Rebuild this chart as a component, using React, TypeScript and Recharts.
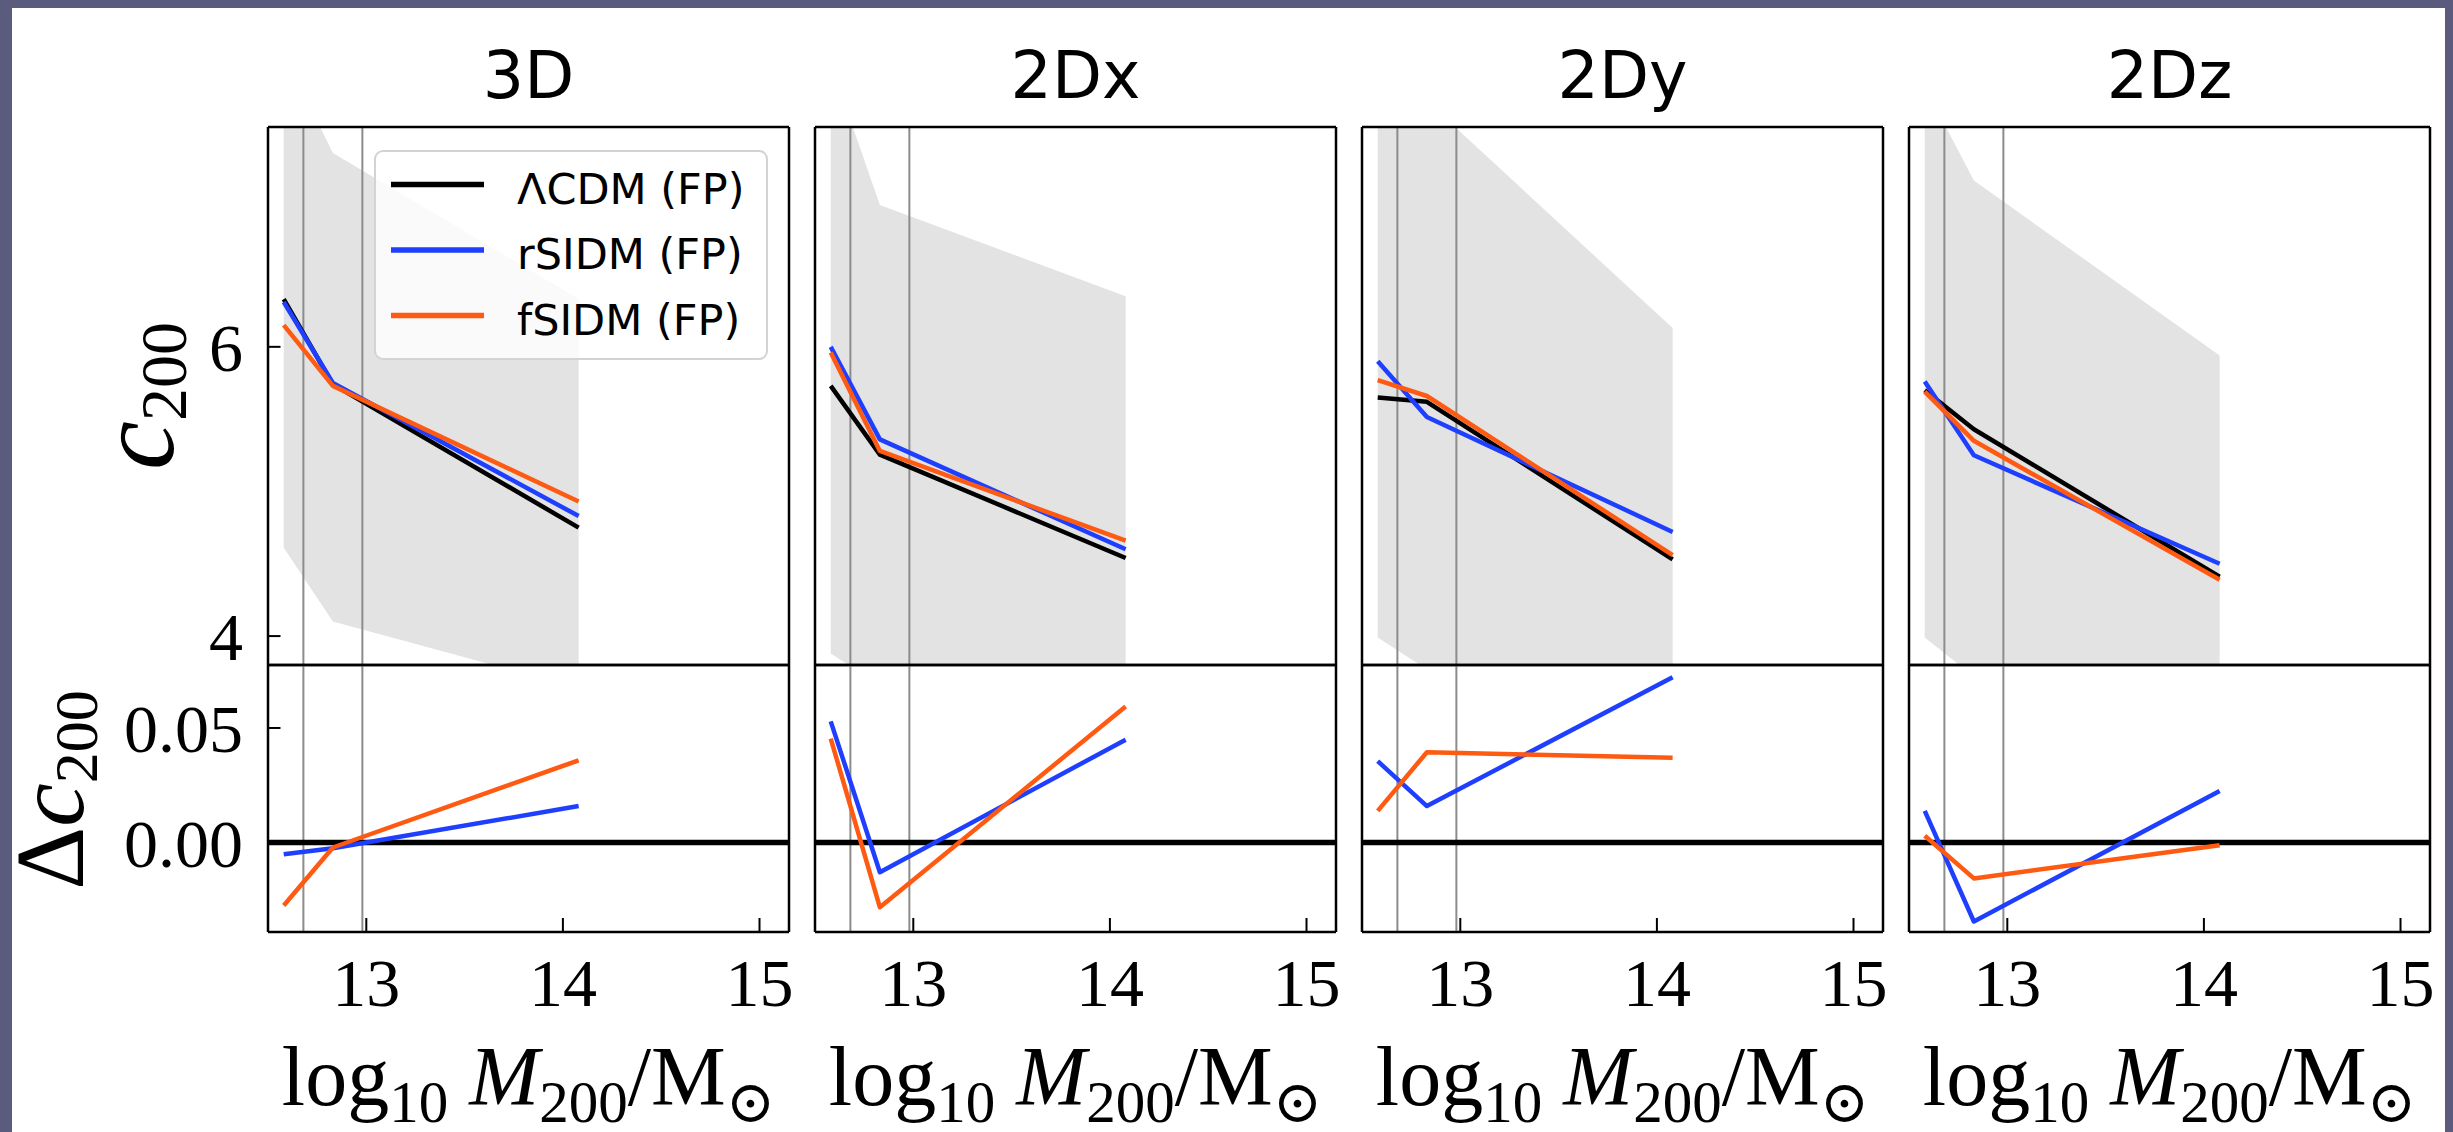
import React from 'react';
import { ComposedChart, Line, Area, XAxis, YAxis, ReferenceLine, Legend } from 'recharts';

// projections shown in the four columns
const PROJECTIONS = ['3D', '2Dx', '2Dy', '2Dz'];

// series names, in legend order
const SERIES = ['ΛCDM (FP)', 'rSIDM (FP)', 'fSIDM (FP)'];

// mass bins (log10 M200 / Msun) and axis ticks
const LOG_M200 = [12.58, 12.83, 14.08];
const M_TICKS = [13, 14, 15];
const M_CUTS = [12.68, 12.98];
const C_TICKS = [4, 6];
const DC_TICKS = [0, 0.05];

// c200 per projection, one row per column (3D, 2Dx, 2Dy, 2Dz)
const C_LCDM = [
  [6.33, 5.74, 4.75],
  [5.73, 5.255, 4.54],
  [5.65, 5.62, 4.53],
  [5.7, 5.43, 4.41],
];
const C_RSIDM = [
  [6.31, 5.75, 4.83],
  [6.0, 5.36, 4.6],
  [5.9, 5.515, 4.72],
  [5.76, 5.25, 4.5],
];
const C_FSIDM = [
  [6.15, 5.73, 4.93],
  [5.96, 5.28, 4.66],
  [5.77, 5.66, 4.56],
  [5.69, 5.35, 4.39],
];
// scatter band of the LCDM sample
const BAND_LO = [
  [4.61, 4.1, 3.64],
  [3.88, 3.66, 3.3],
  [3.99, 3.77, 3.3],
  [3.99, 3.72, 3.3],
];
const BAND_HI = [
  [8.03, 7.34, 6.33],
  [7.96, 6.98, 6.35],
  [8.4, 7.7, 6.13],
  [7.8, 7.15, 5.94],
];
// relative difference to LCDM
const DC_RSIDM = [
  [-0.0051, -0.0025, 0.0159],
  [0.0529, -0.013, 0.0449],
  [0.0355, 0.0159, 0.0722],
  [0.0138, -0.0345, 0.0225],
];
const DC_FSIDM = [
  [-0.0275, -0.0022, 0.0359],
  [0.0454, -0.0283, 0.0594],
  [0.0138, 0.0394, 0.037],
  [0.0029, -0.0157, -0.0012],
];

const X_DOMAIN: [number, number] = [12.5, 15.15];
const C_DOMAIN: [number, number] = [3.8, 7.52];
const DC_DOMAIN: [number, number] = [-0.0391, 0.0775];

const COL = { lcdm: '#000000', rsidm: '#1f3fff', fsidm: '#ff5a12' };
const SERIF = '"Liberation Serif", "DejaVu Serif", serif';
const SANS = '"DejaVu Sans", sans-serif';

// page layout (px)
const PANEL_X = [268, 815, 1362, 1909];
const PANEL_W = 521;
const TOP_Y = 127;
const MID_Y = 665;
const BOT_Y = 932;

const AXIS_LINE = { stroke: '#000', strokeWidth: 2.5 };
const TICK_LINE = { stroke: '#000', strokeWidth: 2 };
const TICK_TEXT = { fontSize: 68, fontFamily: SERIF, fill: '#000' };

function LegendBox(props: any) {
  const items = (props.payload || [])
    .filter((p: any) => SERIES.includes(p.value))
    .sort((a: any, b: any) => SERIES.indexOf(a.value) - SERIES.indexOf(b.value));
  return (
    <div
      style={{
        position: 'relative',
        width: 394,
        height: 210,
        boxSizing: 'border-box',
        border: '2.5px solid #d3d3d3',
        borderRadius: 9,
        background: 'rgba(255,255,255,0.8)',
      }}
    >
      <svg width={394} height={210} style={{ position: 'absolute', left: -2.5, top: -2.5 }}>
        {items.map((p: any, i: number) => (
          <g key={p.value}>
            <line x1={17} x2={110} y1={34.5 + i * 65.5} y2={34.5 + i * 65.5} stroke={p.color} strokeWidth={5.5} />
            <text x={143} y={53.5 + i * 65.5} fontFamily={SANS} fontSize={43} fill="#000">
              {p.value}
            </text>
          </g>
        ))}
      </svg>
    </div>
  );
}

function Panel({ col, row }: { col: number; row: number }) {
  const top = row === 0;
  const padL = col === 0 ? 160 : 10;
  const padR = 10;
  const padT = 10;
  const padB = top ? 10 : 100;
  const h = top ? MID_Y - TOP_Y : BOT_Y - MID_Y;
  const left = PANEL_X[col] - padL;
  const y0 = (top ? TOP_Y : MID_Y) - padT;
  const width = padL + PANEL_W + padR;
  const height = padT + h + padB;

  const data = LOG_M200.map((m, k) =>
    top
      ? {
          m,
          band: [BAND_LO[col][k], BAND_HI[col][k]],
          lcdm: C_LCDM[col][k],
          rsidm: C_RSIDM[col][k],
          fsidm: C_FSIDM[col][k],
        }
      : { m, rsidm: DC_RSIDM[col][k], fsidm: DC_FSIDM[col][k] }
  );

  const yDomain = top ? C_DOMAIN : DC_DOMAIN;
  const yTicks = top ? C_TICKS : DC_TICKS;
  const fmt = (v: number) => (top ? String(v) : v.toFixed(2));

  return (
    <div style={{ position: 'absolute', left, top: y0, width, height }}>
      <ComposedChart width={width} height={height} data={data} margin={{ top: 0, right: 0, bottom: 0, left: 0 }}>
        <XAxis
          xAxisId="b"
          dataKey="m"
          type="number"
          orientation="bottom"
          domain={X_DOMAIN}
          ticks={M_TICKS}
          interval={0}
          allowDataOverflow
          height={padB}
          axisLine={AXIS_LINE}
          tickLine={TICK_LINE}
          tickSize={-14}
          tickMargin={40}
          tick={top ? false : TICK_TEXT}
        />
        <XAxis
          xAxisId="t"
          type="number"
          orientation="top"
          domain={X_DOMAIN}
          ticks={M_TICKS}
          interval={0}
          allowDataOverflow
          height={padT}
          axisLine={AXIS_LINE}
          tickLine={TICK_LINE}
          tickSize={-14}
          tick={false}
        />
        <YAxis
          yAxisId="l"
          type="number"
          orientation="left"
          domain={yDomain}
          ticks={yTicks}
          interval={0}
          allowDataOverflow
          width={padL}
          axisLine={AXIS_LINE}
          tickLine={TICK_LINE}
          tickSize={-12.5}
          tickMargin={37.5}
          tickFormatter={fmt}
          tick={col === 0 ? TICK_TEXT : false}
        />
        <YAxis
          yAxisId="r"
          type="number"
          orientation="right"
          domain={yDomain}
          ticks={yTicks}
          interval={0}
          allowDataOverflow
          width={padR}
          axisLine={AXIS_LINE}
          tickLine={TICK_LINE}
          tickSize={-12.5}
          tick={false}
        />
        {top && (
          <Area
            xAxisId="b"
            yAxisId="l"
            type="linear"
            dataKey="band"
            stroke="none"
            fill="#e3e3e3"
            fillOpacity={1}
            legendType="none"
            isAnimationActive={false}
          />
        )}
        {M_CUTS.map((x) => (
          <ReferenceLine key={x} xAxisId="b" yAxisId="l" x={x} stroke="#8c8c8c" strokeWidth={2} />
        ))}
        {!top && <ReferenceLine xAxisId="b" yAxisId="l" y={0} stroke="#000" strokeWidth={5.5} />}
        {top && (
          <Line
            xAxisId="b"
            yAxisId="l"
            type="linear"
            dataKey="lcdm"
            name={SERIES[0]}
            stroke={COL.lcdm}
            strokeWidth={4.5}
            strokeLinejoin="round"
            dot={false}
            isAnimationActive={false}
          />
        )}
        <Line
          xAxisId="b"
          yAxisId="l"
          type="linear"
          dataKey="rsidm"
          name={SERIES[1]}
          stroke={COL.rsidm}
          strokeWidth={4.5}
          strokeLinejoin="round"
          dot={false}
          isAnimationActive={false}
        />
        <Line
          xAxisId="b"
          yAxisId="l"
          type="linear"
          dataKey="fsidm"
          name={SERIES[2]}
          stroke={COL.fsidm}
          strokeWidth={4.5}
          strokeLinejoin="round"
          dot={false}
          isAnimationActive={false}
        />
        {top && col === 0 && (
          <Legend
            layout="horizontal"
            align="center"
            verticalAlign="middle"
            content={<LegendBox />}
            wrapperStyle={{ left: 374 - left, top: 150 - y0, width: 394, height: 210 }}
          />
        )}
      </ComposedChart>
    </div>
  );
}

// baseline offset of a line box with line-height 1 (ascent - (ascent + descent - 1) / 2)
const SERIF_BASE = 0.8375;
const SANS_BASE = 0.846;

function Title({ i, text }: { i: number; text: string }) {
  const size = 65;
  return (
    <div
      style={{
        position: 'absolute',
        left: PANEL_X[i],
        width: PANEL_W,
        top: 98 - SANS_BASE * size,
        textAlign: 'center',
        fontFamily: SANS,
        fontSize: size,
        lineHeight: 1,
        whiteSpace: 'nowrap',
      }}
    >
      {text}
    </div>
  );
}

function MassLabel({ i }: { i: number }) {
  const size = 84;
  const sub = { fontSize: 59, verticalAlign: -17 };
  return (
    <div
      style={{
        position: 'absolute',
        left: PANEL_X[i],
        width: PANEL_W,
        top: 1105 - SERIF_BASE * size,
        textAlign: 'center',
        fontFamily: SERIF,
        fontSize: size,
        lineHeight: 1,
        whiteSpace: 'nowrap',
      }}
    >
      log<span style={sub}>10</span> <i>M</i>
      <span style={sub}>200</span>/M<span style={sub}>⊙</span>
    </div>
  );
}

// rotated y label: baseline at page x = bx, centred at page y = cy
function YLabel({ bx, cy, size, children }: { bx: number; cy: number; size: number; children: any }) {
  const w = 400;
  return (
    <div
      style={{
        position: 'absolute',
        left: 0,
        top: 0,
        width: w,
        textAlign: 'center',
        fontFamily: SERIF,
        fontSize: size,
        lineHeight: 1,
        whiteSpace: 'nowrap',
        transformOrigin: '0 0',
        transform: `translate(${bx - SERIF_BASE * size}px, ${cy + w / 2}px) rotate(-90deg)`,
      }}
    >
      {children}
    </div>
  );
}

export default function App() {
  return (
    <div style={{ position: 'absolute', left: 0, top: 0, width: 2453, height: 1132, background: '#5a5b7d' }}>
      <div style={{ position: 'absolute', left: 12, top: 8, width: 2433, height: 1124, background: '#fff' }} />
      {PROJECTIONS.map((p, c) => (
        <React.Fragment key={p}>
          <Panel col={c} row={0} />
          <Panel col={c} row={1} />
          <Title i={c} text={p} />
          <MassLabel i={c} />
        </React.Fragment>
      ))}
      <YLabel bx={173} cy={396} size={110}>
        <i>c</i>
        <span style={{ fontSize: 66, verticalAlign: -13 }}>200</span>
      </YLabel>
      <YLabel bx={83} cy={790} size={98}>
        Δ<i>c</i>
        <span style={{ fontSize: 62, verticalAlign: -14 }}>200</span>
      </YLabel>
    </div>
  );
}
